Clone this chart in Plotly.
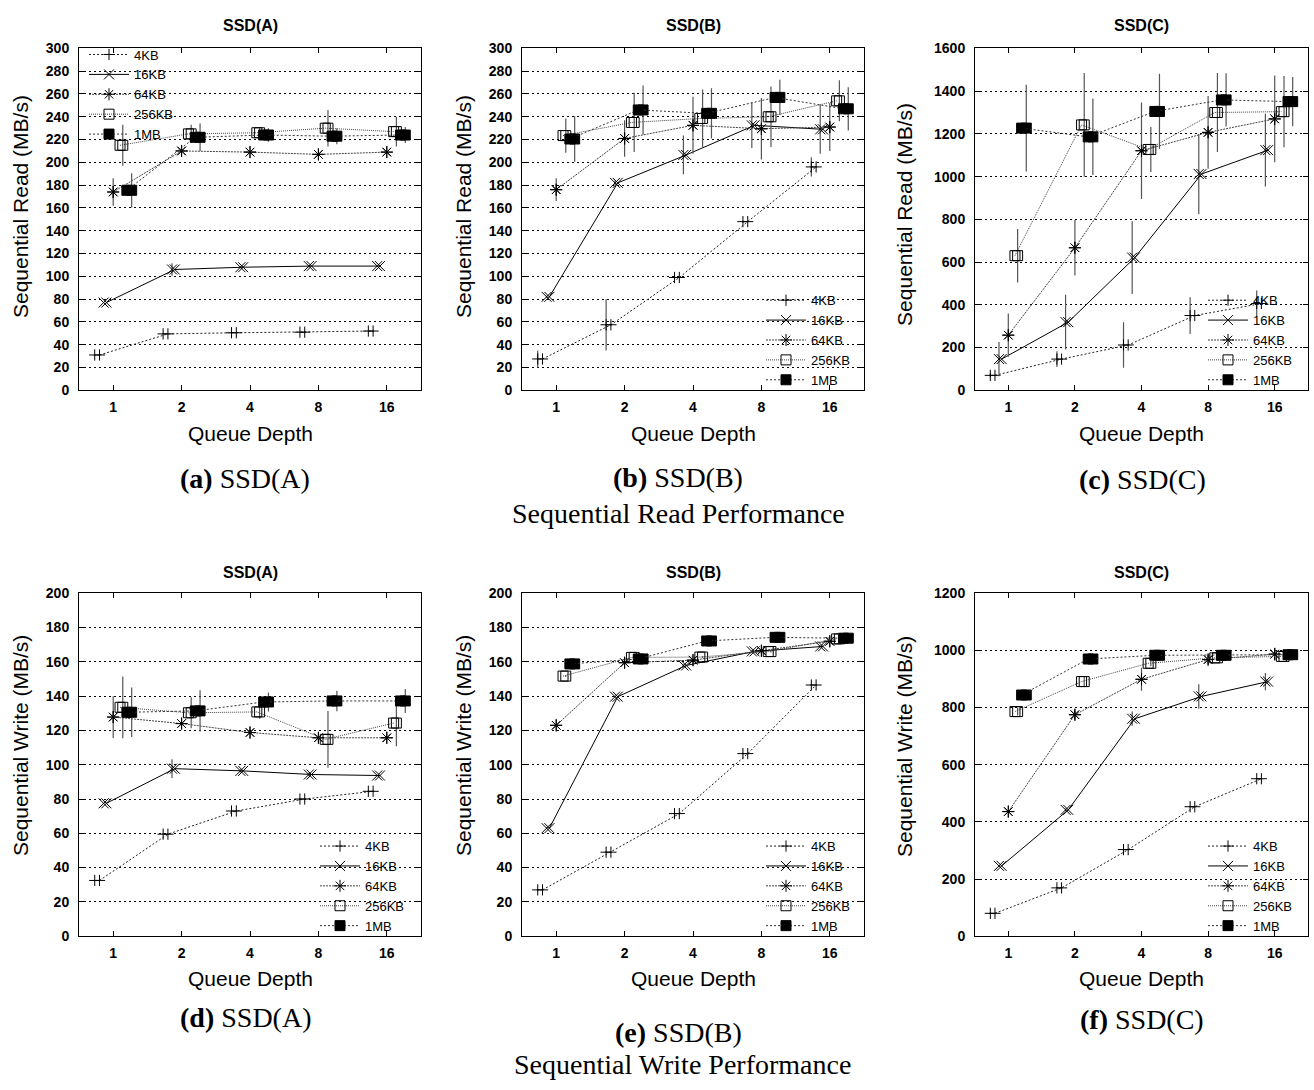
import plotly.graph_objects as go

W, H = 1314, 1090

QUEUE_DEPTHS = [1, 2, 4, 8, 16]
QD_LABELS = ["1", "2", "4", "8", "16"]
SERIES = ["4KB", "16KB", "64KB", "256KB", "1MB"]

# Sequential read (MB/s): one list per block size [4KB, 16KB, 64KB, 256KB, 1MB]
READ_A = [[31, 49.5, 50.5, 51, 52],
          [77, 106, 108, 109, 109],
          [174, 210, 209, 207, 209],
          [215, 225, 226, 230, 227],
          [175.5, 222, 224, 223, 224]]
READ_A_ERR = [[0, 0, 0, 0, 0],
              [0, 5.5, 1, 1, 0],
              [12, 1, 1, 1, 1],
              [18, 8, 4, 16, 13],
              [15, 12, 6, 7, 7]]

READ_B = [[27.5, 57.5, 99, 148, 196],
          [82, 182, 206.5, 232.5, 229],
          [176, 221, 232.5, 229.5, 231],
          [223.5, 235, 238.5, 240, 254],
          [220.5, 246, 243, 257, 247]]
READ_B_ERR = [[7.5, 22.5, 1, 1, 8.5],
              [1, 2, 17, 20, 21.5],
              [10, 16, 25, 27, 21],
              [15, 26, 25.5, 26.5, 18],
              [20, 21.5, 22, 15.5, 19]]

READ_C = [[70, 146, 212, 350, 406],
          [146, 319, 621, 1012, 1124],
          [258, 667, 1121, 1207, 1270],
          [630, 1242, 1127, 1300, 1304],
          [1227, 1186, 1305, 1359, 1351]]
READ_C_ERR = [[10, 37, 107, 86, 61],
              [80, 128, 170, 188, 170],
              [101, 130, 226, 170, 203],
              [125, 243, 105, 185, 167],
              [203, 179, 176, 125, 115]]

# Sequential write (MB/s)
WRITE_A = [[32.5, 59.5, 73, 80, 84.5],
           [77.5, 97.7, 96.4, 94.3, 93.7],
           [127.8, 124, 118.8, 115.7, 115.7],
           [133.5, 130.3, 130.8, 114.8, 124.3],
           [130.6, 131.4, 136.6, 137.2, 137.2]]
WRITE_A_ERR = [[0, 0, 0, 0, 0],
               [0, 5.5, 1, 1, 0],
               [12.2, 1, 1, 1, 1],
               [18, 9, 4, 16.5, 13.5],
               [14.5, 12, 5.5, 6, 7]]

WRITE_B = [[27, 49, 71.5, 106.5, 146.5],
           [63, 139.7, 157.9, 166.1, 169],
           [123, 159.5, 161, 166.5, 172],
           [151.7, 162.6, 162.8, 166, 173.4],
           [158.8, 161.7, 172.2, 174.3, 173.8]]
WRITE_B_ERR = [[0.5, 0.5, 0.5, 0.5, 0.5],
               [0.5, 0.5, 0.5, 0.5, 0.5],
               [0.5, 0.5, 0.5, 0.5, 0.5],
               [0.5, 0.5, 0.5, 0.5, 0.5],
               [0.5, 0.5, 0.5, 0.5, 0.5]]

WRITE_C = [[80, 169, 303, 453, 551],
           [246, 442, 761, 839, 891],
           [436, 775, 899, 968, 987],
           [786, 891, 955, 974, 979],
           [844, 970, 983, 983, 985]]
WRITE_C_ERR = [[0, 0, 0, 0, 0],
               [3, 5, 25, 43, 30],
               [5, 15, 40, 15, 22],
               [14, 17, 10, 10, 10],
               [3, 3, 5, 10, 10]]

PANELS = [
    dict(vals=READ_A, err=READ_A_ERR, title="SSD(A)", ytitle="Sequential Read (MB/s)", ymax=300, dtick=20),
    dict(vals=READ_B, err=READ_B_ERR, title="SSD(B)", ytitle="Sequential Read (MB/s)", ymax=300, dtick=20),
    dict(vals=READ_C, err=READ_C_ERR, title="SSD(C)", ytitle="Sequential Read (MB/s)", ymax=1600, dtick=200),
    dict(vals=WRITE_A, err=WRITE_A_ERR, title="SSD(A)", ytitle="Sequential Write (MB/s)", ymax=200, dtick=20),
    dict(vals=WRITE_B, err=WRITE_B_ERR, title="SSD(B)", ytitle="Sequential Write (MB/s)", ymax=200, dtick=20),
    dict(vals=WRITE_C, err=WRITE_C_ERR, title="SSD(C)", ytitle="Sequential Write (MB/s)", ymax=1200, dtick=200),
]

# ---- styling / layout (pixel geometry) ----
X_PX = [(79, 421), (522, 864), (975, 1308)]
Y_PX = [(41, 388), (594, 942)]
LINE_OFF = [-0.2, -0.1, 0.0, 0.1, 0.2]
ERR_OFF = [-0.27, -0.14, 0.0, 0.14, 0.27]
STYLES = [
    dict(symbol="cross-thin-open", size=8, dash="2px,2px", color="#222"),
    dict(symbol="x-thin-open", size=10, dash="solid", color="#000"),
    dict(symbol="asterisk-open", size=10, dash="2px,1px", color="#444"),
    dict(symbol="square-open", size=10, dash="1px,1px", color="#444"),
    dict(symbol="square", size=10, dash="2px,2px", color="#333"),
]
YTITLE_POS = [(20, 202), (463, 202), (905, 210), (20, 749), (463, 749), (905, 750)]
LEGEND_POS = [dict(x=84, y=32, xanchor="left", yanchor="top"),
              dict(x=856, y=393, xanchor="right", yanchor="bottom"),
              dict(x=1298, y=393, xanchor="right", yanchor="bottom"),
              dict(x=410, y=947, xanchor="right", yanchor="bottom"),
              dict(x=856, y=947, xanchor="right", yanchor="bottom"),
              dict(x=1298, y=947, xanchor="right", yanchor="bottom")]

SANS = "Liberation Sans, Arial, sans-serif"
SERIF = "Liberation Serif, Times New Roman, serif"


def px_x(p):
    return p / W


def px_y(p):
    return 1 - p / H


fig = go.Figure()
layout = {}
annotations = []

for i, panel in enumerate(PANELS):
    r, c = divmod(i, 3)
    n = "" if i == 0 else str(i + 1)
    xa, ya = "x" + n, "y" + n
    leg = "legend" + n
    x0, x1 = X_PX[c]
    y0, y1 = Y_PX[r]
    layout["xaxis" + n] = dict(
        domain=[px_x(x0), px_x(x1)], anchor=ya, type="log",
        range=[-0.5 * 0.30103, 4.5 * 0.30103],
        tickvals=QUEUE_DEPTHS, ticktext=QD_LABELS,
        ticks="inside", ticklen=5, tickcolor="black",
        showline=True, linecolor="black", linewidth=1, mirror="ticks",
        showgrid=False, zeroline=False,
        tickfont=dict(family=SANS, size=14, color="black", weight="bold"),
        ticklabelstandoff=4,
    )
    layout["yaxis" + n] = dict(
        domain=[px_y(y1), px_y(y0)], anchor=xa,
        range=[0, panel["ymax"]], dtick=panel["dtick"], tick0=0,
        ticks="inside", ticklen=5, tickcolor="black",
        showline=True, linecolor="black", linewidth=1, mirror="ticks",
        showgrid=True, gridcolor="black", griddash="2px,3px", gridwidth=1,
        zeroline=False,
        tickfont=dict(family=SANS, size=14, color="black", weight="bold"),
        ticklabelstandoff=6,
    )
    lp = LEGEND_POS[i]
    layout[leg] = dict(
        x=px_x(lp["x"]), y=px_y(lp["y"]), xanchor=lp["xanchor"], yanchor=lp["yanchor"],
        bgcolor="rgba(0,0,0,0)", borderwidth=0,
        font=dict(family=SANS, size=13, color="black"),
        itemwidth=40, tracegroupgap=0,
    )

    for s, name in enumerate(SERIES):
        st = STYLES[s]
        vals = panel["vals"][s]
        errs = panel["err"][s]
        xl = [q * 2 ** LINE_OFF[s] for q in QUEUE_DEPTHS]
        xe = [q * 2 ** ERR_OFF[s] for q in QUEUE_DEPTHS]
        marker = dict(symbol=st["symbol"], size=st["size"], color="black",
                      line=dict(color="black", width=1))
        fig.add_trace(go.Scatter(
            x=xe, y=vals, mode="markers", xaxis=xa, yaxis=ya,
            marker=marker, showlegend=False, legend=leg, name=name,
            error_y=dict(type="data", array=errs, visible=True,
                         color="#555", thickness=1.2, width=0),
        ))
        fig.add_trace(go.Scatter(
            x=xl, y=vals, mode="lines+markers", xaxis=xa, yaxis=ya,
            line=dict(color=st["color"], width=1, dash=st["dash"]),
            marker=marker, name=name, legend=leg, showlegend=True,
        ))

    # subplot title
    cx = (x0 + x1) / 2
    annotations.append(dict(text=panel["title"], x=px_x(cx), y=px_y(18 if r == 0 else 573),
                            xref="paper", yref="paper", showarrow=False,
                            xanchor="center", yanchor="middle",
                            font=dict(family=SANS, size=16, color="black", weight="bold")))
    # x axis title
    annotations.append(dict(text="Queue Depth", x=px_x(cx), y=px_y(432 if r == 0 else 985),
                            xref="paper", yref="paper", showarrow=False,
                            xanchor="center", yanchor="middle",
                            font=dict(family=SANS, size=21, color="black")))
    # y axis title
    tx, ty = YTITLE_POS[i]
    annotations.append(dict(text=panel["ytitle"], x=px_x(tx), y=px_y(ty),
                            xref="paper", yref="paper", showarrow=False, textangle=-90,
                            xanchor="center", yanchor="middle",
                            font=dict(family=SANS, size=21, color="black")))

CAPTIONS = [("(a)", "SSD(A)", 245, 478), ("(b)", "SSD(B)", 678, 476), ("(c)", "SSD(C)", 1142, 479),
            ("(d)", "SSD(A)", 245, 1025), ("(e)", "SSD(B)", 678, 1040), ("(f)", "SSD(C)", 1142, 1027)]
for lab, txt, cx, cy in CAPTIONS:
    annotations.append(dict(text="<b>%s</b> %s" % (lab, txt), x=px_x(cx), y=px_y(cy),
                            xref="paper", yref="paper", showarrow=False,
                            xanchor="center", yanchor="middle",
                            font=dict(family=SERIF, size=28, color="black")))
for txt, cx, cy in [("Sequential Read Performance", 678, 513),
                    ("Sequential Write Performance", 682, 1072)]:
    annotations.append(dict(text=txt, x=px_x(cx), y=px_y(cy),
                            xref="paper", yref="paper", showarrow=False,
                            xanchor="center", yanchor="middle",
                            font=dict(family=SERIF, size=28, color="black")))

fig.update_layout(
    width=W, height=H, margin=dict(l=0, r=0, t=0, b=0),
    paper_bgcolor="white", plot_bgcolor="white",
    annotations=annotations, **layout,
)

fig.write_html("out.html")
